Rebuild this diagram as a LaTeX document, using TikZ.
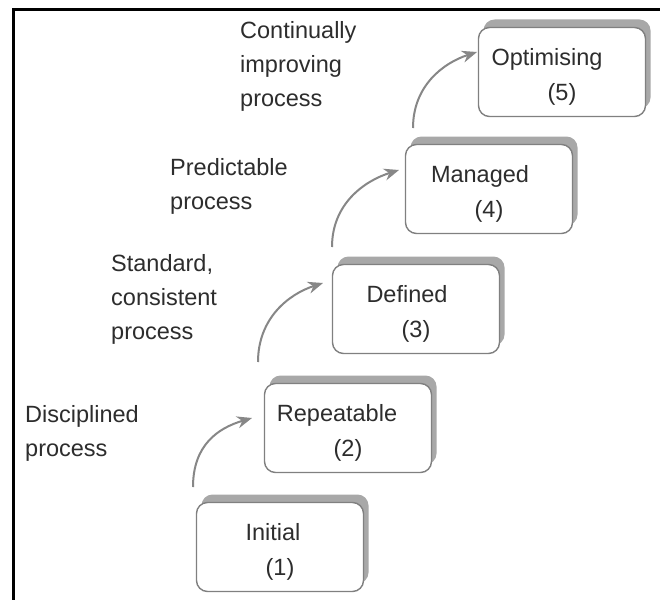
\documentclass[tikz,border=0pt]{standalone}
\usepackage{fontspec}
\setmainfont{Liberation Sans}
\usetikzlibrary{shadows,arrows.meta}
\definecolor{boxline}{RGB}{128,128,128}
\definecolor{shade}{RGB}{168,168,168}
\definecolor{arrowgray}{RGB}{135,135,135}
\definecolor{ink}{RGB}{45,45,45}
\begin{document}
\begin{tikzpicture}[x=1pt,y=-1pt,
  level/.style={draw=boxline, line width=1.4pt, rounded corners=11pt, fill=white,
    minimum width=167pt, minimum height=89pt, inner sep=0pt,
    drop shadow={shadow xshift=5pt, shadow yshift=8pt, fill=shade, opacity=1}},
  levelname/.style={align=center, inner sep=0pt, text=ink, yshift=-5pt,
    font=\fontsize{23.5}{34.5}\selectfont},
  note/.style={anchor=base west, align=left, inner sep=0pt, text=ink,
    font=\fontsize{23.5}{34}\selectfont},
  climb/.style={draw=arrowgray, line width=2pt, -{Stealth[length=15pt, width=12pt]}}]

% canvas and frame
\useasboundingbox (0,0) rectangle (660,599);
\fill[white] (0,0) rectangle (660,599);
\draw[line width=3pt, line cap=rect] (13,599) -- (13,10) -- (660,10);

% maturity levels
\node[level] (l1) at (280,547) {};
\node[level] (l2) at (348,428) {};
\node[level] (l3) at (416,309) {};
\node[level] (l4) at (489,189) {};
\node[level] (l5) at (562,72)  {};
\node[levelname] (n1) at (l1.center) {Initial\hspace*{14pt}\\(1)};
\node[levelname] (n2) at (l2.center) {Repeatable\hspace*{22pt}\\(2)};
\node[levelname] (n3) at (l3.center) {Defined\hspace*{18pt}\\(3)};
\node[levelname] (n4) at (l4.center) {Managed\hspace*{18pt}\\(4)};
\node[levelname] (n5) at (l5.center) {Optimising\hspace*{30pt}\\(5)};

% process descriptions (anchored at the baseline of the last line)
\node[note] (d2) at (25,456)    {Disciplined\\process};
\node[note] (d3) at (111,339.5) {Standard,\\consistent\\process};
\node[note] (d4) at (170,209.5) {Predictable\\process};
\node[note] (d5) at (240,106.5) {Continually\\improving\\process};

% step-up arrows
\coordinate (s1) at (193,487); \coordinate (t1) at (252,418);
\coordinate (s2) at (258,362); \coordinate (t2) at (323,283);
\coordinate (s3) at (332,247); \coordinate (t3) at (399,170);
\coordinate (s4) at (413,128); \coordinate (t4) at (477,52);
\draw[climb] (s1) .. controls (193,445) and (218,428) .. (t1);
\draw[climb] (s2) .. controls (258,318) and (289,294) .. (t2);
\draw[climb] (s3) .. controls (332,204) and (364,181) .. (t3);
\draw[climb] (s4) .. controls (413,86) and (443,63) .. (t4);
\end{tikzpicture}
\end{document}
